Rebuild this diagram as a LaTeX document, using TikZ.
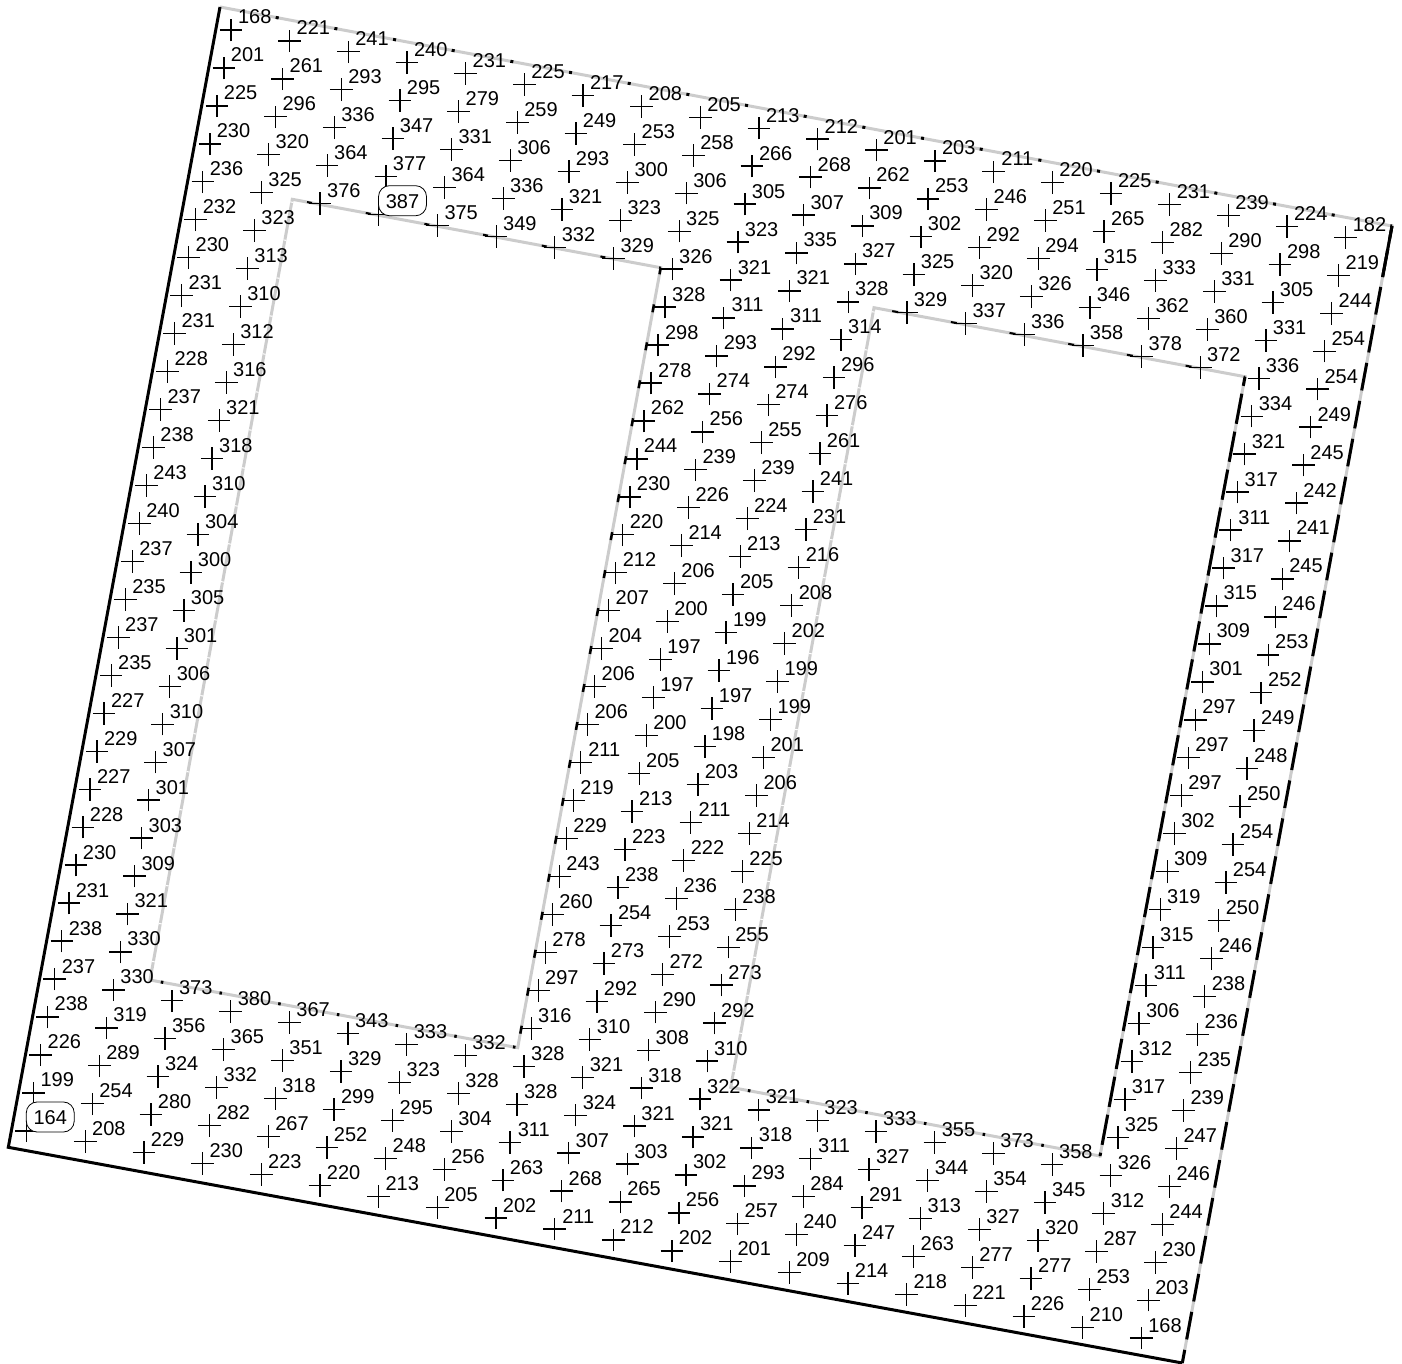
\documentclass[tikz,border=0pt]{standalone}
\usepackage{fontspec}
\setmainfont{Liberation Sans}
\usetikzlibrary{calc}
\begin{document}
\begin{tikzpicture}[
    x=1pt, y=-1pt, % One unit is one pixel, y runs downwards
    wall_gray/.style={draw=black!20, line width=3pt, line join=miter}, % Style for the grey boundary
    wall_black/.style={draw=black, line width=3pt, line join=miter}, % Style for the black boundary
    wall_part/.style n args={3}{draw=black, line width=3pt, dash pattern=on #1pt off #2pt, dash phase=#3pt}, % Style for black pieces on grey
    grid_cross/.style={draw=black, line width=1.3pt}, % Style for the point crosses
    value/.style={font=\fontsize{20}{24}\selectfont, anchor=base, inner sep=0pt, xshift=23.7pt, yshift=6pt}, % Style for the values
    extreme/.style={draw=black, fill=white, line width=0.8pt, rounded corners=11pt, inner xsep=7.3pt, inner ysep=7pt, text height=15.9pt} % Style for the framed values
]

    \useasboundingbox (0,0) rectangle (1402,1364);

    % --- Corners ---
    \coordinate (NW) at (220,7);
    \coordinate (NE) at (1392,226);
    \coordinate (SE) at (1182.3,1363);
    \coordinate (SW) at (8.3,1147.3);

    \coordinate (A1) at (292.3,199.3);
    \coordinate (B1) at (660.7,267.7);
    \coordinate (C1) at (517.7,1047.7);
    \coordinate (D1) at (150,980);

    \coordinate (A2) at (874,307.7);
    \coordinate (B2) at (1245,376.7);
    \coordinate (C2) at (1100,1156);
    \coordinate (D2) at (730.7,1087.3);

    % --- Boundary ---
    \draw[wall_gray] (NW) -- (NE) -- (SE);
    \draw[wall_part={3}{56.68}{3}] (NW) -- (NE);
    \draw[wall_part={28}{10.6}{15.2}] (NE) -- (SE);
    \draw[wall_black] (NE) -- ($(NE)!0.045!(SE)$);
    \draw[wall_black] (SE) -- (SW) -- (NW);

    % Left window
    \draw[wall_gray] (A1) -- (B1) -- (C1) -- (D1) -- cycle;
    \draw[wall_part={5}{54.68}{44.68}, line width=2pt] (A1) -- (B1);
    \draw[wall_part={8}{30.6}{1.3}, line width=2.5pt] (B1) -- (C1);
    \draw[wall_part={2.5}{57.18}{48.68}] (D1) -- (C1);
    \draw[wall_part={1}{37.6}{36.2}, draw=white] (A1) -- (D1);

    % Right window
    \draw[wall_gray] (A2) -- (B2) -- (C2) -- (D2) -- cycle;
    \draw[wall_part={6}{53.68}{41.18}, line width=2pt] (A2) -- (B2);
    \draw[wall_part={30.6}{8}{21.3}] (B2) -- (C2);
    \draw[wall_part={2.5}{57.18}{42.18}] (D2) -- (C2);
    \draw[wall_part={1}{37.6}{34.8}, draw=white] (A2) -- (D2);

    % --- Grid of values ---
    \begin{scope}[shift={(231,30)}, x={(58.67pt,-10.91pt)}, y={(-7.05pt,-37.96pt)}]
        % Crosses first, the framed values have to hide them
        \foreach \col/\first/\vals in {
            0/0/{168,201,225,230,236,232,230,231,231,228,237,238,243,240,237,235,237,235,227,229,227,228,230,231,238,237,238,226,199,164},
            1/0/{221,261,296,320,325,323,313,310,312,316,321,318,310,304,300,305,301,306,310,307,301,303,309,321,330,330,319,289,254,208},
            2/0/{241,293,336,364,376},
            3/0/{240,295,347,377,387},
            4/0/{231,279,331,364,375},
            5/0/{225,259,306,336,349},
            6/0/{217,249,293,321,332},
            7/0/{208,253,300,323,329},
            8/0/{205,258,306,325,326,328,298,278,262,244,230,220,212,207,204,206,206,211,219,229,243,260,278,297,316,328,328,311,263,202},
            9/0/{213,266,305,323,321,311,293,274,256,239,226,214,206,200,197,197,200,205,213,223,238,254,273,292,310,321,324,307,268,211},
            10/0/{212,268,307,335,321,311,292,274,255,239,224,213,205,199,196,197,198,203,211,222,236,253,272,290,308,318,321,303,265,212},
            11/0/{201,262,309,327,328,314,296,276,261,241,231,216,208,202,199,199,201,206,214,225,238,255,273,292,310,322,321,302,256,202},
            12/0/{203,253,302,325,329},
            13/0/{211,246,292,320,337},
            14/0/{220,251,294,326,336},
            15/0/{225,265,315,346,358},
            16/0/{231,282,333,362,378},
            17/0/{239,290,331,360,372},
            18/0/{224,298,305,331,336,334,321,317,311,317,315,309,301,297,297,297,302,309,319,315,311,306,312,317,325,326,312,287,253,210},
            19/0/{182,219,244,254,254,249,245,242,241,245,246,253,252,249,248,250,254,254,250,246,238,236,235,239,247,246,244,230,203,168},
            2/25/{373,356,324,280,229},
            3/25/{380,365,332,282,230},
            4/25/{367,351,318,267,223},
            5/25/{343,329,299,252,220},
            6/25/{333,323,295,248,213},
            7/25/{332,328,304,256,205},
            12/25/{321,318,293,257,201},
            13/25/{323,311,284,240,209},
            14/25/{333,327,291,247,214},
            15/25/{355,344,313,263,218},
            16/25/{373,354,327,277,221},
            17/25/{358,345,320,277,226}} {
            \foreach \val [count=\row from \first] in \vals {
                \coordinate (p\col-\row) at (\col,\row);
                \draw[grid_cross] (p\col-\row) +(-11.3pt,0pt) -- +(11.3pt,0pt) (p\col-\row) +(0pt,-11.3pt) -- +(0pt,11.3pt);
                \node[value] (v\col-\row) at (p\col-\row) {\val};
            }
        }

        % Lowest and highest value
        \node[value, extreme] (vmin) at (p0-29) {164};
        \node[value, extreme] (vmax) at (p3-4) {387};
    \end{scope}

\end{tikzpicture}
\end{document}
